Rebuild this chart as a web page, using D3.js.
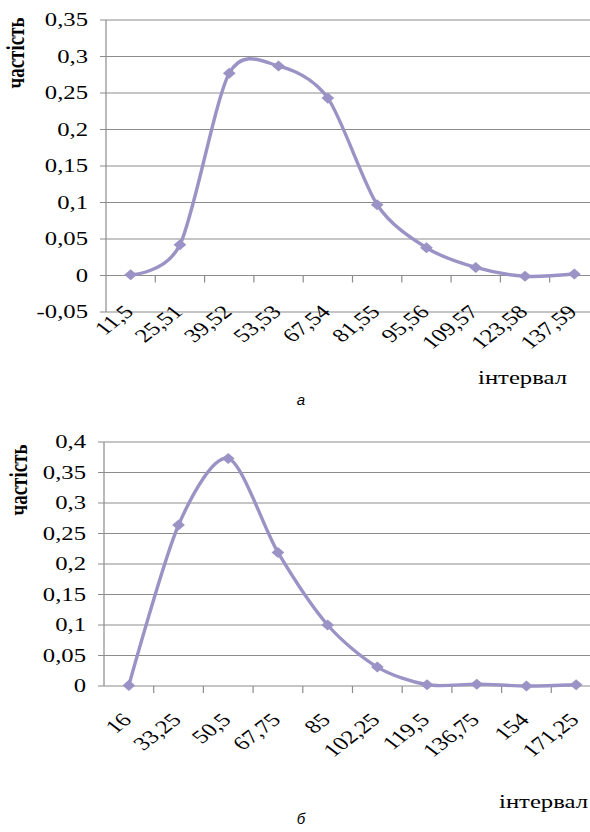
<!DOCTYPE html>
<html>
<head>
<meta charset="utf-8">
<script src="https://cdn.jsdelivr.net/npm/d3@7"></script>
<style>
  body { margin: 0; background: #fff; }
  svg { display: block; }
  text { font-family: "Liberation Serif", "Times New Roman", serif; fill: #000; }
</style>
</head>
<body>
<svg id="chart" width="590" height="832"></svg>
<script>
// chart "а"
const intervalsA = ["11,5", "25,51", "39,52", "53,53", "67,54", "81,55", "95,56", "109,57", "123,58", "137,59"];
const freqA = [0.001, 0.042, 0.277, 0.287, 0.243, 0.097, 0.038, 0.011, -0.001, 0.002];
const ticksA = [-0.05, 0, 0.05, 0.1, 0.15, 0.2, 0.25, 0.3, 0.35];

// chart "б"
const intervalsB = ["16", "33,25", "50,5", "67,75", "85", "102,25", "119,5", "136,75", "154", "171,25"];
const freqB = [0.001, 0.264, 0.373, 0.219, 0.1, 0.031, 0.002, 0.003, 0, 0.002];
const ticksB = [0, 0.05, 0.1, 0.15, 0.2, 0.25, 0.3, 0.35, 0.4];

const yTitle = "частість";
const xTitle = "інтервал";

const svg = d3.select("#chart");
const lineColor = "#9b93c5";
const gridColor = "#8c8c8c";
const sx = 1.3; // the source picture is stretched horizontally

const fmt = v => String(+v.toFixed(2)).replace(".", ",");

function drawChart(opt) {
    const g = svg.append("g");

    const x = d3.scaleBand().domain(opt.labels).range([opt.left, opt.left + opt.band * opt.labels.length]);
    const y = d3.scaleLinear().domain([opt.ticks[0], opt.ticks[opt.ticks.length - 1]]).range([opt.bottom, opt.top]);
    const right = x.range()[1];

    // gridlines + outward y ticks
    g.selectAll(".grid").data(opt.ticks).enter().append("line")
        .attr("x1", opt.left - 6).attr("x2", right)
        .attr("y1", d => y(d)).attr("y2", d => y(d))
        .attr("stroke", gridColor).attr("stroke-width", 1.2);

    // y axis line
    g.append("line")
        .attr("x1", opt.left).attr("x2", opt.left)
        .attr("y1", y(opt.ticks[0])).attr("y2", y(opt.ticks[opt.ticks.length - 1]))
        .attr("stroke", gridColor).attr("stroke-width", 1.2);

    // y tick labels
    g.selectAll(".ylab").data(opt.ticks).enter().append("text")
        .attr("transform", d => `translate(${opt.left - 18},${y(d) + 6}) scale(${sx},1)`)
        .attr("text-anchor", "end")
        .style("font-size", "19px")
        .text(fmt);

    // category ticks on the zero line
    const bounds = opt.labels.slice(1).map(d => x(d)).concat([right]);
    g.selectAll(".xtick").data(bounds).enter().append("line")
        .attr("x1", d => d).attr("x2", d => d)
        .attr("y1", y(0)).attr("y2", y(0) + 7)
        .attr("stroke", gridColor).attr("stroke-width", 1.2);

    // x tick labels, rotated
    g.selectAll(".xlab").data(opt.labels).enter().append("text")
        .attr("transform", d => `translate(${x(d) + x.bandwidth() / 2 + 4},${opt.labelY}) scale(${sx},1) rotate(-45)`)
        .attr("text-anchor", "end")
        .style("font-size", "19px")
        .text(d => d);

    const pts = opt.labels.map((d, i) => [x(d) + x.bandwidth() / 2, y(opt.values[i])]);

    g.append("path")
        .attr("d", d3.line().curve(d3.curveCardinal.tension(0.15))(pts))
        .attr("fill", "none")
        .attr("stroke", lineColor)
        .attr("stroke-width", 3.4);

    g.selectAll(".pt").data(pts).enter().append("path")
        .attr("d", d3.symbol().type(d3.symbolDiamond2).size(78))
        .attr("transform", d => `translate(${d[0]},${d[1]}) scale(1.15,1)`)
        .attr("fill", lineColor);

    // axis titles
    g.append("text")
        .attr("transform", `translate(${opt.yTitleX},${opt.yTitleY}) scale(${sx},1) rotate(-90)`)
        .attr("text-anchor", "middle")
        .style("font-size", "19px")
        .style("font-weight", "bold")
        .text(yTitle);

    g.append("text")
        .attr("transform", `translate(${opt.xTitleX},${opt.xTitleY}) scale(${sx},1)`)
        .attr("text-anchor", "end")
        .style("font-size", "19px")
        .text(xTitle);

    g.append("text")
        .attr("x", 301).attr("y", opt.captionY)
        .attr("text-anchor", "middle")
        .style("font-family", "'Liberation Sans', Arial, sans-serif")
        .style("font-style", "italic")
        .style("font-size", "15px")
        .text(opt.caption);
}

drawChart({
    labels: intervalsA, values: freqA, ticks: ticksA,
    left: 106, band: 49.3, top: 20, bottom: 312,
    labelY: 313, yTitleX: 24, yTitleY: 53,
    xTitleX: 567, xTitleY: 384, caption: "а", captionY: 405
});

drawChart({
    labels: intervalsB, values: freqB, ticks: ticksB,
    left: 104, band: 49.7, top: 442, bottom: 686,
    labelY: 721, yTitleX: 27, yTitleY: 480,
    xTitleX: 588, xTitleY: 808, caption: "б", captionY: 824
});
</script>
</body>
</html>
